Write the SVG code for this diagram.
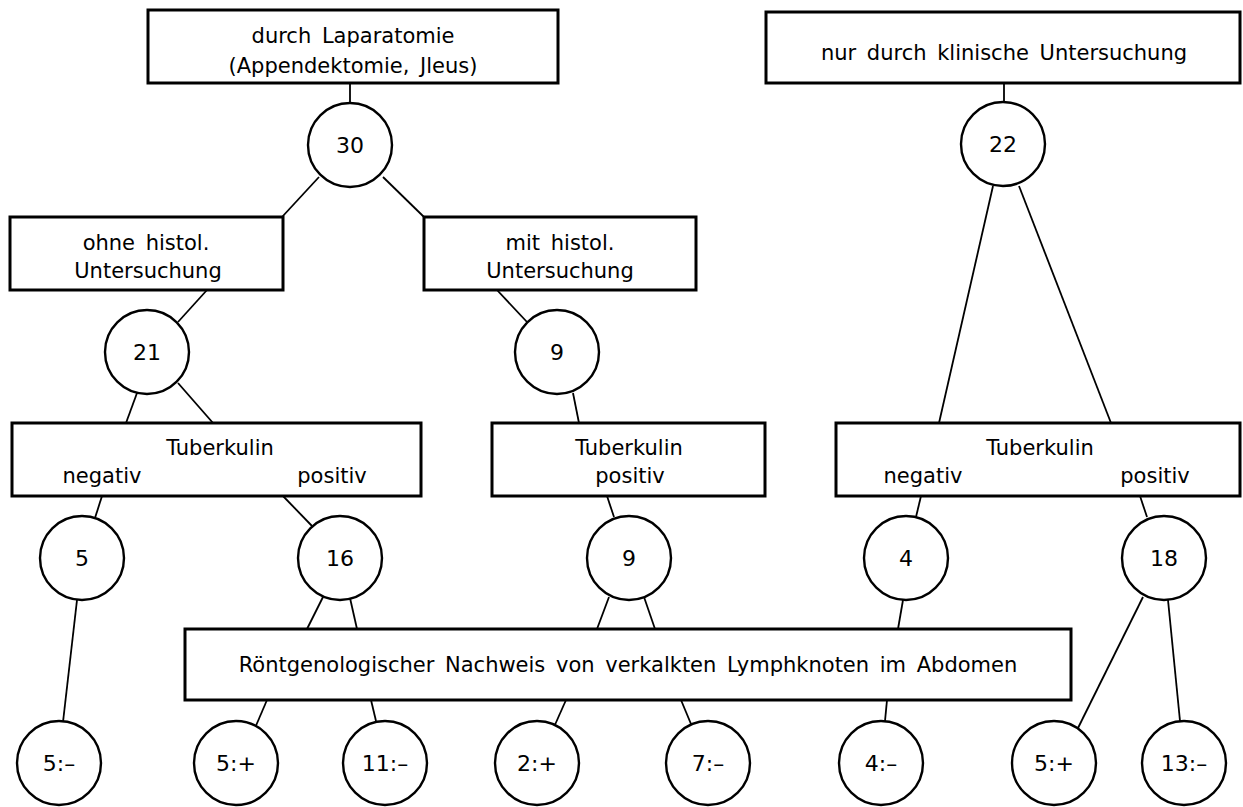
<svg xmlns="http://www.w3.org/2000/svg" width="1243" height="807" viewBox="0 0 1243 807">
<style>
.box{fill:#fff;stroke:#000;stroke-width:3}
.node{fill:#fff;stroke:#000;stroke-width:2.4}
.t{font-family:"DejaVu Sans","Liberation Sans",sans-serif;font-size:21px;fill:#000;text-anchor:middle;word-spacing:4px}
.n{font-family:"DejaVu Sans","Liberation Sans",sans-serif;font-size:22px;fill:#000;text-anchor:middle}
.c line{stroke:#000;stroke-width:1.8}
</style>
<rect width="1243" height="807" fill="#fff"/>
<g class="c" id="connectors">
<line x1="350" y1="83" x2="350" y2="103"/>
<line x1="319" y1="177" x2="282" y2="217"/>
<line x1="383" y1="177" x2="424" y2="217"/>
<line x1="207" y1="290" x2="178" y2="322"/>
<line x1="497" y1="290" x2="527" y2="322"/>
<line x1="137" y1="393" x2="126" y2="423"/>
<line x1="178" y1="383" x2="213" y2="423"/>
<line x1="573" y1="393" x2="579" y2="423"/>
<line x1="1004" y1="83" x2="1004" y2="102"/>
<line x1="993" y1="186" x2="939" y2="423"/>
<line x1="1019" y1="186" x2="1111" y2="423"/>
<line x1="102" y1="496" x2="95" y2="518"/>
<line x1="283" y1="496" x2="312" y2="526"/>
<line x1="607" y1="496" x2="614" y2="517"/>
<line x1="921" y1="496" x2="916" y2="517"/>
<line x1="1140" y1="496" x2="1147" y2="517"/>
<line x1="77" y1="600" x2="63" y2="722"/>
<line x1="323" y1="597" x2="307" y2="629"/>
<line x1="350" y1="598" x2="357" y2="629"/>
<line x1="609" y1="597" x2="597" y2="629"/>
<line x1="644" y1="597" x2="655" y2="629"/>
<line x1="903" y1="600" x2="898" y2="629"/>
<line x1="1143" y1="597" x2="1078" y2="728"/>
<line x1="1168" y1="600" x2="1180" y2="721"/>
<line x1="267" y1="700" x2="255" y2="728"/>
<line x1="371" y1="700" x2="376" y2="721"/>
<line x1="566" y1="700" x2="554" y2="727"/>
<line x1="681" y1="700" x2="691" y2="724"/>
<line x1="887" y1="700" x2="885" y2="721"/>
</g>
<g id="box-laparatomie"><rect class="box" x="148" y="10" width="410" height="73"/><text class="t" x="353" y="43">durch Laparatomie</text><text class="t" x="353" y="73">(Appendektomie, Jleus)</text></g>
<g id="box-klinisch"><rect class="box" x="766" y="12" width="474" height="71"/><text class="t" x="1004" y="60">nur durch klinische Untersuchung</text></g>
<g id="n30"><circle class="node" cx="350" cy="145" r="42"/><text class="n" x="350" y="153">30</text></g>
<g id="n22"><circle class="node" cx="1003" cy="144" r="42"/><text class="n" x="1003" y="152">22</text></g>
<g id="box-ohne"><rect class="box" x="10" y="217" width="273" height="73"/><text class="t" x="146" y="250">ohne histol.</text><text class="t" x="148" y="278">Untersuchung</text></g>
<g id="box-mit"><rect class="box" x="424" y="217" width="272" height="73"/><text class="t" x="560" y="250">mit histol.</text><text class="t" x="560" y="278">Untersuchung</text></g>
<g id="n21"><circle class="node" cx="147" cy="352" r="42"/><text class="n" x="147" y="360">21</text></g>
<g id="n9a"><circle class="node" cx="557" cy="352" r="42"/><text class="n" x="557" y="360">9</text></g>
<g id="box-tub-left"><rect class="box" x="12" y="423" width="409" height="73"/><text class="t" x="220" y="455">Tuberkulin</text><text class="t" x="102" y="483">negativ</text><text class="t" x="332" y="483">positiv</text></g>
<g id="box-tub-mid"><rect class="box" x="492" y="423" width="273" height="73"/><text class="t" x="629" y="455">Tuberkulin</text><text class="t" x="630" y="483">positiv</text></g>
<g id="box-tub-right"><rect class="box" x="836" y="423" width="404" height="73"/><text class="t" x="1040" y="455">Tuberkulin</text><text class="t" x="923" y="483">negativ</text><text class="t" x="1155" y="483">positiv</text></g>
<g id="n5"><circle class="node" cx="82" cy="558" r="42"/><text class="n" x="82" y="566">5</text></g>
<g id="n16"><circle class="node" cx="340" cy="558" r="42"/><text class="n" x="340" y="566">16</text></g>
<g id="n9b"><circle class="node" cx="629" cy="558" r="42"/><text class="n" x="629" y="566">9</text></g>
<g id="n4"><circle class="node" cx="906" cy="558" r="42"/><text class="n" x="906" y="566">4</text></g>
<g id="n18"><circle class="node" cx="1164" cy="558" r="42"/><text class="n" x="1164" y="566">18</text></g>
<g id="box-roentgen"><rect class="box" x="185" y="629" width="886" height="71"/><text class="t" x="628" y="672">Röntgenologischer Nachweis von verkalkten Lymphknoten im Abdomen</text></g>
<g id="b1"><circle class="node" cx="59" cy="763" r="42"/><text class="n" x="59" y="771">5:–</text></g>
<g id="b2"><circle class="node" cx="236" cy="763" r="42"/><text class="n" x="236" y="771">5:+</text></g>
<g id="b3"><circle class="node" cx="385" cy="763" r="42"/><text class="n" x="385" y="771">11:–</text></g>
<g id="b4"><circle class="node" cx="537" cy="763" r="42"/><text class="n" x="537" y="771">2:+</text></g>
<g id="b5"><circle class="node" cx="708" cy="763" r="42"/><text class="n" x="708" y="771">7:–</text></g>
<g id="b6"><circle class="node" cx="881" cy="763" r="42"/><text class="n" x="881" y="771">4:–</text></g>
<g id="b7"><circle class="node" cx="1054" cy="763" r="42"/><text class="n" x="1054" y="771">5:+</text></g>
<g id="b8"><circle class="node" cx="1184" cy="763" r="42"/><text class="n" x="1184" y="771">13:–</text></g>
</svg>
